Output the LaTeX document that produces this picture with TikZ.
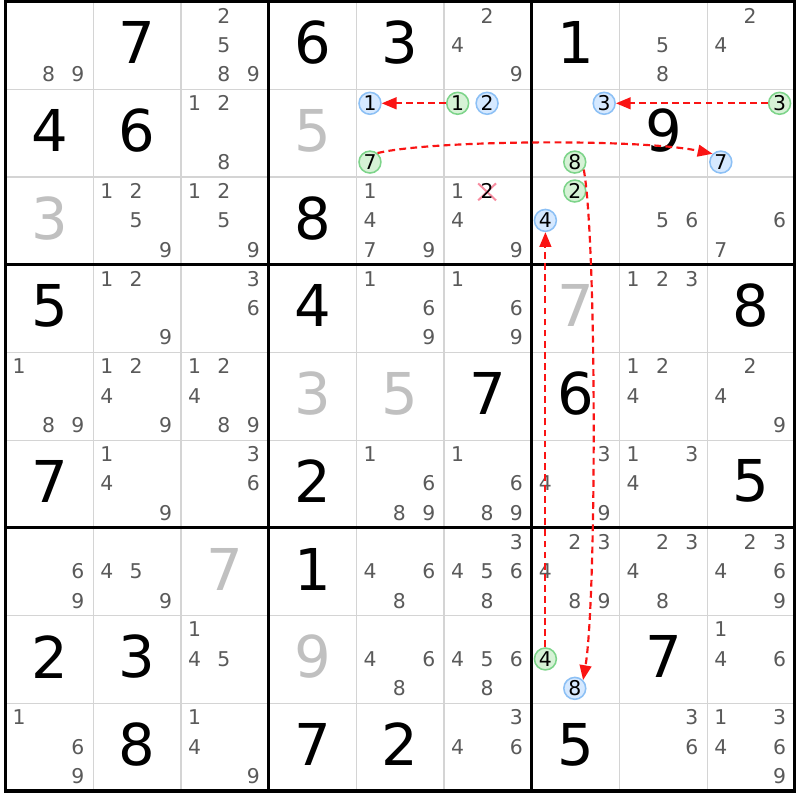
\documentclass[tikz,border=0pt]{standalone}
\usepackage{fontspec}
\setmainfont{DejaVu Sans}
\usepackage{tikz}
\usetikzlibrary{calc, arrows.meta, shapes.misc}
\usepackage{xcolor}
\definecolor{solved}{RGB}{192,192,192}
\definecolor{candgray}{RGB}{90,90,90}
\definecolor{gridgray}{RGB}{212,212,212}
\definecolor{bluefill}{RGB}{214,233,255}
\definecolor{blueline}{RGB}{140,192,245}
\definecolor{greenfill}{RGB}{214,242,214}
\definecolor{greenline}{RGB}{125,212,138}
\definecolor{linkred}{RGB}{250,20,20}
\definecolor{killpink}{RGB}{248,140,160}

\begin{document}
\begin{tikzpicture}[x=1cm, y=-1cm,
		big/.style={font=\fontsize{18.7}{22}\selectfont, inner sep=0pt},
		small/.style={font=\fontsize{6.6}{8}\selectfont, text=candgray, inner sep=0pt},
		greencand/.style={small, text=black, circle, draw=greenline, fill=greenfill, line width=0.5pt, minimum size=0.25cm},
		bluecand/.style={small, text=black, circle, draw=blueline, fill=bluefill, line width=0.5pt, minimum size=0.25cm},
		link/.style={draw=linkred, line width=0.7pt, dash pattern=on 2.2pt off 1.4pt, -{Triangle[length=4.8pt,width=3.8pt]}}]
		\fill[white] (-0.063,-0.015) rectangle (9.054,9.103);
		% cells
		\scope[gridgray, line width=0.4pt]
			\foreach \i in {1,2,4,5,7,8}
				\draw (\i,0) -- (\i,9) (0,\i) -- (9,\i);
		\endscope
		% boxes
		\scope[black, line width=1pt]
			\foreach \i in {3,6}
				\draw (\i,0) -- (\i,9) (0,\i) -- (9,\i);
			\draw (0,0) rectangle (9,9);
		\endscope
		% givens
		\foreach \row/\col/\dig in {1/2/7, 1/4/6, 1/5/3, 1/7/1, 2/1/4, 2/2/6, 2/8/9, 3/4/8,
				4/1/5, 4/4/4, 4/9/8, 5/6/7, 5/7/6, 6/1/7, 6/4/2, 6/9/5, 7/4/1,
				8/1/2, 8/2/3, 8/8/7, 9/2/8, 9/4/7, 9/5/2, 9/7/5}
			\node[big] (g\row c\col) at (\col-0.5, \row-0.53) {\dig};
		% solved
		\foreach \row/\col/\dig in {2/4/5, 3/1/3, 4/7/7, 5/4/3, 5/5/5, 7/3/7, 8/4/9}
			\node[big, text=solved] (g\row c\col) at (\col-0.5, \row-0.53) {\dig};
		% candidates
		\foreach \row/\col/\digs in {
				1/1/{8,9}, 1/3/{2,5,8,9}, 1/6/{2,4,9}, 1/8/{5,8}, 1/9/{2,4},
				2/3/{1,2,8},
				3/2/{1,2,5,9}, 3/3/{1,2,5,9}, 3/5/{1,4,7,9}, 3/6/{1,4,9}, 3/8/{5,6}, 3/9/{6,7},
				4/2/{1,2,9}, 4/3/{3,6}, 4/5/{1,6,9}, 4/6/{1,6,9}, 4/8/{1,2,3},
				5/1/{1,8,9}, 5/2/{1,2,4,9}, 5/3/{1,2,4,8,9}, 5/8/{1,2,4}, 5/9/{2,4,9},
				6/2/{1,4,9}, 6/3/{3,6}, 6/5/{1,6,8,9}, 6/6/{1,6,8,9}, 6/7/{3,4,9}, 6/8/{1,3,4},
				7/1/{6,9}, 7/2/{4,5,9}, 7/5/{4,6,8}, 7/6/{3,4,5,6,8}, 7/7/{2,3,4,8,9}, 7/8/{2,3,4,8}, 7/9/{2,3,4,6,9},
				8/3/{1,4,5}, 8/5/{4,6,8}, 8/6/{4,5,6,8}, 8/9/{1,4,6},
				9/1/{1,6,9}, 9/3/{1,4,9}, 9/6/{3,4,6}, 9/8/{3,6}, 9/9/{1,3,4,6,9}}
			\foreach \dig in \digs
				\node[small] (r\row c\col d\dig) at ({\col-0.845+0.335*mod(\dig-1,3)}, {\row-0.84+0.335*floor((\dig-1)/3)}) {\dig};
		% eliminated
		\node[draw=killpink, cross out, line width=0.65pt, minimum width=0.18cm, minimum height=0.17cm, inner sep=0pt] (kill) at (5.49,2.17) {};
		\node[small, text=black] (r3c6d2) at (5.49,2.16) {2};
		% on / off
		\foreach \row/\col/\dig in {2/5/7, 2/6/1, 2/7/8, 2/9/3, 3/7/2, 8/7/4}
			\node[greencand] (r\row c\col d\dig) at ({\col-0.845+0.335*mod(\dig-1,3)}, {\row-0.84+0.335*floor((\dig-1)/3)}) {\dig};
		\foreach \row/\col/\dig in {2/5/1, 2/6/2, 2/7/3, 2/9/7, 3/7/4, 8/7/8}
			\node[bluecand] (r\row c\col d\dig) at ({\col-0.845+0.335*mod(\dig-1,3)}, {\row-0.84+0.335*floor((\dig-1)/3)}) {\dig};
		% links
		\draw[link] (r2c6d1) -- (r2c5d1);
		\draw[link] (r2c9d3) -- (r2c7d3);
		\draw[link] (r2c5d7.50) .. controls (4.84,1.58) and (7.23,1.56) .. (r2c9d7.135);
		\draw[link] (r2c7d8.-40) .. controls (6.74,2.72) and (6.74,6.82) .. (r8c7d8.45);
		\draw[link] (r8c7d4) -- (r3c7d4);
	\end{tikzpicture}
\end{document}
